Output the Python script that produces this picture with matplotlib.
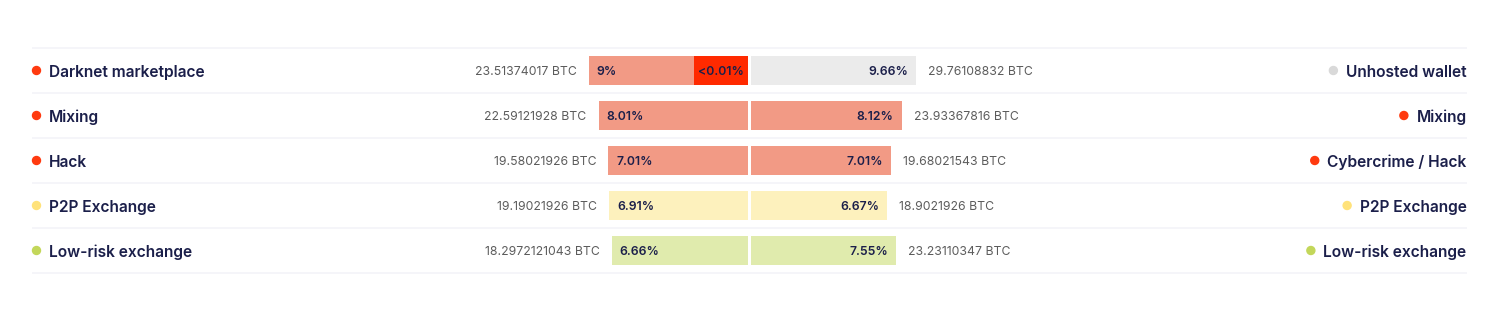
import matplotlib
matplotlib.use("Agg")
import matplotlib.pyplot as plt
from matplotlib.patches import Circle

# ---- data -------------------------------------------------------------
left_labels = ["Darknet marketplace", "Mixing", "Hack", "P2P Exchange", "Low-risk exchange"]
left_btc = ["23.51374017 BTC", "22.59121928 BTC", "19.58021926 BTC", "19.19021926 BTC", "18.2972121043 BTC"]
left_pct = [9.00, 8.01, 7.01, 6.91, 6.66]
left_extra_pct = [0.01, 0, 0, 0, 0]          # second (tiny) segment, labelled "<0.01%"
left_kind = ["red", "red", "red", "yellow", "green"]

right_labels = ["Unhosted wallet", "Mixing", "Cybercrime / Hack", "P2P Exchange", "Low-risk exchange"]
right_btc = ["29.76108832 BTC", "23.93367816 BTC", "19.68021543 BTC", "18.9021926 BTC", "23.23110347 BTC"]
right_pct = [9.66, 8.12, 7.01, 6.67, 7.55]
right_kind = ["gray", "red", "red", "yellow", "green"]

# ---- styles -----------------------------------------------------------
BAR_COLORS = {"red": "#F29A85", "gray": "#EBEBEB", "yellow": "#FDF1BD", "green": "#E0EBAD"}
DOT_COLORS = {"red": "#FF3A0F", "gray": "#D9D9D9", "yellow": "#FFE27A", "green": "#C3D75A"}
TINY_COLOR = "#FF2A00"
NAVY = "#1B1F4A"
GRAY_TXT = "#5C5C5C"
LINE = "#F4F4F8"

FONT = "Inter"
W, H = 1500, 322
CX = 749.5          # centre of the diverging bars
GAP = 1.5
PX_PER_PCT = 9.7    # bar scale
BASE = 7.4          # constant added to every bar so short bars stay readable
TINY_W = 5.6        # display width (in pct units) of the "<0.01%" segment
ROW0, ROW_STEP = 70.5, 45
BAR_H = 29
PCT_FS = 8.8
BTC_FS = 8.8
LBL_FS = 11.2

fig = plt.figure(figsize=(W / 100, H / 100), dpi=100)
ax = fig.add_axes([0, 0, 1, 1])
ax.set_xlim(0, W)
ax.set_ylim(H, 0)
ax.axis("off")

n = len(left_labels)
rows = [ROW0 + i * ROW_STEP for i in range(n)]

# separators
for i in range(n + 1):
    y = ROW0 - ROW_STEP / 2 + i * ROW_STEP
    ax.plot([32, 1467], [y, y], color=LINE, lw=1.2, solid_capstyle="butt", zorder=1)

fig.canvas.draw()
renderer = fig.canvas.get_renderer()

for i, y in enumerate(rows):
    # left side: category dot + label
    ax.add_patch(Circle((36.5, y), 4, color=DOT_COLORS[left_kind[i]], zorder=3))
    ax.text(49, y, left_labels[i], ha="left", va="center_baseline", fontsize=LBL_FS,
            fontweight="semibold", color=NAVY, family=FONT)

    # left bars (grow leftwards from the centre)
    total = (BASE + left_pct[i]) * PX_PER_PCT
    if left_extra_pct[i] > 0:
        tiny = TINY_W * PX_PER_PCT
        main = total - tiny + left_extra_pct[i] * PX_PER_PCT
        ax.barh(y, -tiny, left=CX - GAP, height=BAR_H, color=TINY_COLOR, zorder=2)
        ax.barh(y, -main, left=CX - GAP - tiny, height=BAR_H,
                color=BAR_COLORS[left_kind[i]], zorder=2)
        ax.text(CX - GAP - tiny / 2, y, "<%.2f%%" % left_extra_pct[i], ha="center",
                va="center_baseline", fontsize=PCT_FS, fontweight="semibold", color=NAVY, family=FONT)
        start = CX - GAP - tiny - main
    else:
        ax.barh(y, -total, left=CX - GAP, height=BAR_H,
                color=BAR_COLORS[left_kind[i]], zorder=2)
        start = CX - GAP - total
    pct_txt = ("%g%%" % left_pct[i]) if left_pct[i] == int(left_pct[i]) else ("%.2f%%" % left_pct[i])
    ax.text(start + 8, y, pct_txt, ha="left", va="center_baseline", fontsize=PCT_FS,
            fontweight="semibold", color=NAVY, family=FONT)
    ax.text(start - 12, y, left_btc[i], ha="right", va="center_baseline", fontsize=BTC_FS,
            color=GRAY_TXT, family=FONT)

    # right bars (grow rightwards from the centre)
    rw = (BASE + right_pct[i]) * PX_PER_PCT
    ax.barh(y, rw, left=CX + GAP, height=BAR_H, color=BAR_COLORS[right_kind[i]], zorder=2)
    end = CX + GAP + rw
    ax.text(end - 8, y, "%.2f%%" % right_pct[i], ha="right", va="center_baseline", fontsize=PCT_FS,
            fontweight="semibold", color=NAVY, family=FONT)
    ax.text(end + 12, y, right_btc[i], ha="left", va="center_baseline", fontsize=BTC_FS,
            color=GRAY_TXT, family=FONT)

    # right side: label + dot placed just before the text
    t = ax.text(1466.5, y, right_labels[i], ha="right", va="center_baseline", fontsize=LBL_FS,
                fontweight="semibold", color=NAVY, family=FONT)
    bb = t.get_window_extent(renderer=renderer)
    ax.add_patch(Circle((bb.x0 - 12.5, y), 4, color=DOT_COLORS[right_kind[i]], zorder=3))

fig.savefig("out.png", dpi=100, facecolor="white")
